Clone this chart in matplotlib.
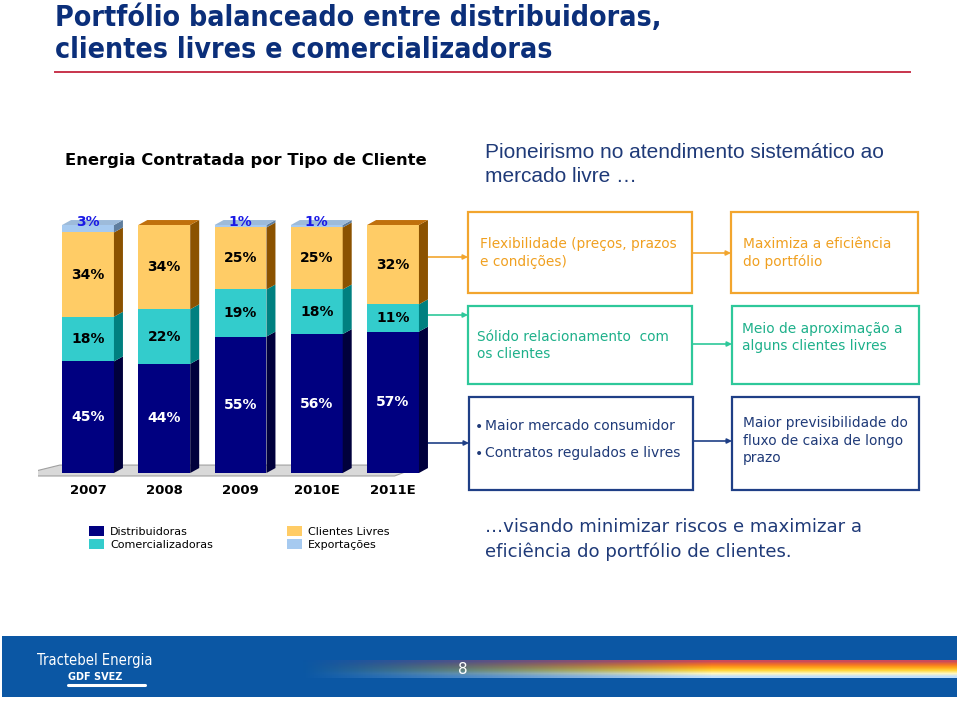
import numpy as np
import matplotlib
matplotlib.use("Agg")
import matplotlib.pyplot as plt
from matplotlib.patches import Polygon, Rectangle

# ---------------- data ----------------
years = ['2007', '2008', '2009', '2010E', '2011E']
distribuidoras = [45, 44, 55, 56, 57]
comercializadoras = [18, 22, 19, 18, 11]
clientes_livres = [34, 34, 25, 25, 32]
exportacoes = [3, 0, 1, 1, 0]
series_names = ['Distribuidoras', 'Comercializadoras', 'Clientes Livres', 'Exportações']

front_cols = ['#000080', '#33CCCC', '#FFCC66', '#A6CAF0']
side_cols = ['#00003C', '#008080', '#8B5200', '#5F7E9E']
top_cols = ['#1A1AA0', '#22A0A0', '#C0700C', '#9DBBDA']
label_cols = ['white', 'black', 'black', '#1A1AE6']

W, H = 960, 701
fig = plt.figure(figsize=(W / 100, H / 100), dpi=100)
fig.patch.set_facecolor('white')

bg = fig.add_axes([0, 0, 1, 1])
bg.set_xlim(0, W)
bg.set_ylim(H, 0)
bg.axis('off')


def px_axes(l, t, r, b):
    return fig.add_axes([l / W, 1 - b / H, (r - l) / W, (b - t) / H])


# ---------------- title ----------------
tt = dict(fontsize=20.4, fontweight='bold', family='DejaVu Sans',
          fontstretch='condensed', color='#0B2F7A', va='center', ha='left')
bg.text(55, 18, 'Portfólio balanceado entre distribuidoras,', **tt)
bg.text(55, 50, 'clientes livres e comercializadoras', **tt)
bg.plot([55, 910], [72, 72], color='#C8344C', lw=1.4)

bg.text(65, 160, 'Energia Contratada por Tipo de Cliente', fontsize=11.8,
        fontweight='bold', color='black', va='center', ha='left')
bg.text(485, 152, 'Pioneirismo no atendimento sistemático ao', fontsize=15,
        family='Liberation Sans', color='#1F3A78', va='center', ha='left')
bg.text(485, 177, 'mercado livre …', fontsize=15,
        family='Liberation Sans', color='#1F3A78', va='center', ha='left')

# ---------------- bar chart ----------------
ax = px_axes(38, 205, 458, 480)
ax.set_xlim(-0.656, 4.852)
ax.set_ylim(-2.82, 108.06)
ax.axis('off')
ax.patch.set_alpha(0)

x = np.arange(len(years))
w = 0.68
dx, dy = 0.118, 2.0

# floor
floor = Polygon([(x[0] - 0.95, -1.2), (x[-1] + 0.02, -1.2),
                 (x[-1] + 0.40, 3.2), (x[0] - 0.37, 3.2)],
                closed=True, facecolor='#D9D9D9', edgecolor='#A0A0A0',
                lw=0.8, zorder=1)
ax.add_patch(floor)

series = [distribuidoras, comercializadoras, clientes_livres, exportacoes]
bottoms = np.zeros(len(years))
handles = []
for si, vals in enumerate(series):
    vals = np.array(vals, dtype=float)
    bc = ax.bar(x, vals, width=w, bottom=bottoms, color=front_cols[si],
                edgecolor='none', zorder=3, label=series_names[si])
    handles.append(bc)
    for i in range(len(x)):
        v = vals[i]
        if v <= 0:
            continue
        b = bottoms[i]
        xr = x[i] + w / 2
        side = Polygon([(xr, b), (xr + dx, b + dy), (xr + dx, b + v + dy), (xr, b + v)],
                       closed=True, facecolor=side_cols[si], edgecolor='none', zorder=3)
        ax.add_patch(side)
        if v >= 5:
            ax.text(x[i], b + v / 2, f'{int(v)}%', ha='center', va='center',
                    fontsize=10, fontweight='bold', color=label_cols[si], zorder=5)
        else:
            ax.text(x[i], b + v + 1.2, f'{int(v)}%', ha='center', va='center',
                    fontsize=10, fontweight='bold', color=label_cols[si], zorder=5)
    bottoms = bottoms + vals

# top faces
for i in range(len(x)):
    top = bottoms[i]
    si = max(k for k in range(len(series)) if series[k][i] > 0)
    xl, xr = x[i] - w / 2, x[i] + w / 2
    tp = Polygon([(xl, top), (xl + dx, top + dy), (xr + dx, top + dy), (xr, top)],
                 closed=True, facecolor=top_cols[si], edgecolor='none', zorder=4)
    ax.add_patch(tp)

for i, yl in enumerate(years):
    ax.text(x[i], -6.9, yl, ha='center', va='center', fontsize=9.5,
            fontweight='bold', color='black', clip_on=False)

# legend
leg = ax.legend(handles, series_names, ncol=2, loc='upper left',
                bbox_to_anchor=(89 / W, 1 - 526 / H), bbox_transform=fig.transFigure,
                frameon=False, fontsize=8, handlelength=1.35, handleheight=0.95,
                handletextpad=0.55, columnspacing=6.65, labelspacing=0.25,
                borderpad=0, borderaxespad=0)

# ---------------- boxes ----------------
orange = '#F2A52E'
teal = '#2EC89A'
navy = '#1F3F86'
orange_t = '#F0A020'
teal_t = '#1DB08A'
navy_t = '#1F3A78'


def box(l, t, r, b, col):
    bg.add_patch(Rectangle((l, t), r - l, b - t, facecolor='white',
                           edgecolor=col, lw=1.6, zorder=2))


box(468, 212, 692, 293, orange)
box(731, 212, 918, 293, orange)
box(468, 306, 692, 384, teal)
box(732, 306, 919, 384, teal)
box(469, 397, 693, 490, navy)
box(732, 397, 919, 490, navy)


def arrow(x0, x1, y, col):
    bg.annotate('', xy=(x1, y), xytext=(x0, y),
                arrowprops=dict(arrowstyle='-|>', color=col, lw=1.2,
                                mutation_scale=7, shrinkA=0, shrinkB=0))


arrow(428, 468, 257, orange)
arrow(428, 468, 315, teal)
arrow(428, 469, 443, navy)
arrow(692, 731, 253, orange)
arrow(693, 732, 344, teal)
arrow(693, 732, 441, navy)

tkw = dict(fontsize=9.9, va='center', ha='left')
bg.text(480, 244, 'Flexibilidade (preços, prazos', color=orange_t, **tkw)
bg.text(480, 262, 'e condições)', color=orange_t, **tkw)
bg.text(743, 244, 'Maximiza a eficiência', color=orange_t, **tkw)
bg.text(743, 262, 'do portfólio', color=orange_t, **tkw)
bg.text(477, 337, 'Sólido relacionamento  com', color=teal_t, **tkw)
bg.text(477, 354, 'os clientes', color=teal_t, **tkw)
bg.text(742, 329, 'Meio de aproximação a', color=teal_t, **tkw)
bg.text(742, 346, 'alguns clientes livres', color=teal_t, **tkw)
bg.text(475, 427, '•', color=navy_t, fontsize=10, va='center', ha='left')
bg.text(485, 426, 'Maior mercado consumidor', color=navy_t, fontsize=10,
        va='center', ha='left')
bg.text(475, 454, '•', color=navy_t, fontsize=10, va='center', ha='left')
bg.text(485, 453, 'Contratos regulados e livres', color=navy_t, fontsize=10,
        va='center', ha='left')
bg.text(743, 423, 'Maior previsibilidade do', color=navy_t, **tkw)
bg.text(743, 441, 'fluxo de caixa de longo', color=navy_t, **tkw)
bg.text(743, 458, 'prazo', color=navy_t, **tkw)

bg.text(485, 527, '…visando minimizar riscos e maximizar a', fontsize=13.1,
        color=navy_t, va='center', ha='left')
bg.text(485, 552, 'eficiência do portfólio de clientes.', fontsize=13.1,
        color=navy_t, va='center', ha='left')

# ---------------- footer ----------------
bg.add_patch(Rectangle((2, 636), 955, 61, facecolor='#0B57A4', edgecolor='none', zorder=1))
rows = np.array([[0.80, 0.30, 0.35], [0.95, 0.45, 0.15], [1.0, 0.65, 0.10],
                 [1.0, 0.85, 0.25], [1.0, 0.97, 0.75], [0.75, 0.88, 1.0]])
ncol = 400
grad = np.zeros((len(rows), ncol, 4))
alpha = np.clip(np.linspace(0, 1.6, ncol), 0, 1) ** 1.1
for r in range(len(rows)):
    grad[r, :, :3] = rows[r]
    grad[r, :, 3] = alpha
bg.imshow(grad, extent=(300, 957, 678, 660), aspect='auto', zorder=2,
          interpolation='bilinear')
bg.set_xlim(0, W)
bg.set_ylim(H, 0)

bg.text(37, 661, 'Tractebel Energia', fontsize=10.5, color='white',
        family='DejaVu Sans', fontstretch='condensed', va='center', ha='left', zorder=3)
bg.text(68, 677, 'GDF SVEZ', fontsize=7, color='white', fontweight='bold',
        va='center', ha='left', zorder=3)
bg.plot([68, 145], [685, 685], color='white', lw=2.2, solid_capstyle='round', zorder=3)
bg.text(463, 670, '8', fontsize=11, color='white', va='center', ha='center', zorder=3)

fig.savefig('out.png', dpi=100)
